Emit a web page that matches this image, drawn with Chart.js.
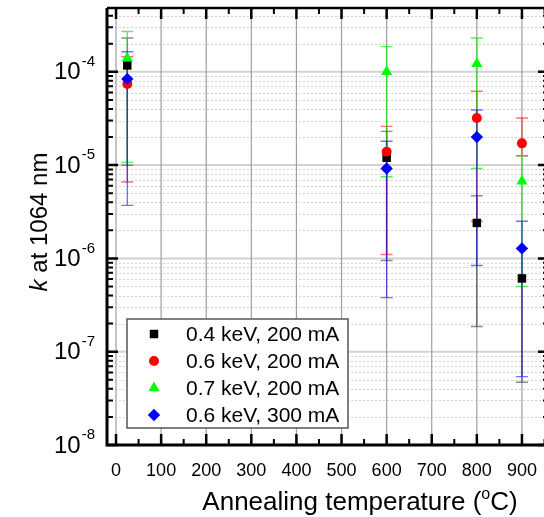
<!DOCTYPE html>
<html>
<head>
<meta charset="utf-8">
<script src="https://cdn.jsdelivr.net/npm/chart.js@4/dist/chart.umd.min.js"></script>
<style>
  html, body { margin: 0; padding: 0; background: #fff; overflow: hidden; }
  #wrap { width: 556px; height: 517px; }
</style>
</head>
<body>
<div id="wrap"><canvas id="chart" width="556" height="517"></canvas></div>
<script>
const FONT = '"Liberation Sans", Arial, Helvetica, sans-serif';

// annealing temperatures (°C)
const temps = [25, 600, 800, 900];

// k at 1064 nm and error-bar limits per deposition condition
const kLow200 = [1.17e-4, 1.2e-5, 2.4e-6, 6.1e-7];
const kLow200Lo = [1.0e-5, 9.5e-7, 1.86e-7, 4.7e-8];
const kLow200Hi = [2.3e-4, 2.3e-5, 4.7e-6, 1.28e-6];

const kMid200 = [7.4e-5, 1.39e-5, 3.2e-5, 1.71e-5];
const kMid200Lo = [6.6e-6, 1.1e-6, 2.5e-6, 1.26e-5];
const kMid200Hi = [1.45e-4, 2.6e-5, 6.2e-5, 3.2e-5];

const kHigh200 = [1.4e-4, 1.0e-4, 1.22e-4, 6.7e-6];
const kHigh200Lo = [1.07e-5, 7.5e-6, 9.2e-6, 5.0e-7];
const kHigh200Hi = [2.7e-4, 1.86e-4, 2.3e-4, 1.26e-5];

const kMid300 = [8.4e-5, 9.2e-6, 2.0e-5, 1.28e-6];
const kMid300Lo = [3.7e-6, 3.8e-7, 8.4e-7, 5.4e-8];
const kMid300Hi = [1.64e-4, 1.8e-5, 3.9e-5, 2.5e-6];

const seriesLabels = ['0.4 keV, 200 mA', '0.6 keV, 200 mA', '0.7 keV, 200 mA', '0.6 keV, 300 mA'];

const xTicks = [0, 100, 200, 300, 400, 500, 600, 700, 800, 900];
const yDecades = [-8, -7, -6, -5, -4];

const series = [
  { label: seriesLabels[0], y: kLow200, lo: kLow200Lo, hi: kLow200Hi, color: '#000000', bar: 'rgba(0,0,0,0.45)', style: 'rect', r: 6 },
  { label: seriesLabels[1], y: kMid200, lo: kMid200Lo, hi: kMid200Hi, color: '#ff0000', bar: 'rgba(255,0,0,0.55)', style: 'circle', r: 5 },
  { label: seriesLabels[2], y: kHigh200, lo: kHigh200Lo, hi: kHigh200Hi, color: '#00ff00', bar: 'rgba(0,230,0,0.65)', style: 'triangle', r: 6.5 },
  { label: seriesLabels[3], y: kMid300, lo: kMid300Lo, hi: kMid300Hi, color: '#0000ff', bar: 'rgba(0,0,255,0.55)', style: 'rectRot', r: 6.2 }
];

function drawMarker(ctx, style, r, x, y, color) {
  ctx.save();
  ctx.fillStyle = color;
  ctx.beginPath();
  if (style === 'rect') {
    const s = r * Math.SQRT1_2;
    ctx.rect(x - s, y - s, 2 * s, 2 * s);
  } else if (style === 'circle') {
    ctx.arc(x, y, r, 0, Math.PI * 2);
  } else if (style === 'triangle') {
    for (let i = 0; i < 3; i++) {
      const a = -Math.PI / 2 + i * 2 * Math.PI / 3;
      const px = x + Math.cos(a) * r, py = y + Math.sin(a) * r;
      i ? ctx.lineTo(px, py) : ctx.moveTo(px, py);
    }
    ctx.closePath();
  } else {
    ctx.moveTo(x, y - r); ctx.lineTo(x + r, y); ctx.lineTo(x, y + r); ctx.lineTo(x - r, y);
    ctx.closePath();
  }
  ctx.fill();
  ctx.restore();
}

const decor = {
  id: 'decor',
  beforeDatasetsDraw(chart) {
    const { ctx, chartArea: a, scales: { x, y } } = chart;
    ctx.save();
    ctx.beginPath();
    ctx.rect(a.left, a.top, a.right - a.left, a.bottom - a.top);
    ctx.clip();
    // minor horizontal grid (dotted)
    ctx.strokeStyle = '#d4d4d4';
    ctx.lineWidth = 1;
    ctx.setLineDash([2, 2]);
    yDecades.forEach(d => {
      for (let m = 2; m <= 9; m++) {
        const py = Math.round(y.getPixelForValue(m * Math.pow(10, d))) + 0.5;
        if (py < a.top) continue;
        ctx.beginPath(); ctx.moveTo(a.left, py); ctx.lineTo(a.right, py); ctx.stroke();
      }
    });
    ctx.setLineDash([]);
    // major horizontal grid
    ctx.strokeStyle = '#d2d2d2';
    ctx.lineWidth = 2;
    yDecades.forEach(d => {
      const py = y.getPixelForValue(Math.pow(10, d));
      ctx.beginPath(); ctx.moveTo(a.left, py); ctx.lineTo(a.right, py); ctx.stroke();
    });
    // vertical grid
    ctx.strokeStyle = '#9e9e9e';
    ctx.lineWidth = 1.2;
    xTicks.forEach(v => {
      const px = x.getPixelForValue(v);
      ctx.beginPath(); ctx.moveTo(px, a.top); ctx.lineTo(px, a.bottom); ctx.stroke();
    });
    // error bars
    ctx.lineWidth = 1.4;
    series.forEach(s => {
      ctx.strokeStyle = s.bar;
      temps.forEach((t, i) => {
        const px = x.getPixelForValue(t);
        const pLo = y.getPixelForValue(s.lo[i]);
        const pHi = y.getPixelForValue(s.hi[i]);
        ctx.beginPath();
        ctx.moveTo(px, pLo); ctx.lineTo(px, pHi);
        ctx.moveTo(px - 6, pLo); ctx.lineTo(px + 6, pLo);
        ctx.moveTo(px - 6, pHi); ctx.lineTo(px + 6, pHi);
        ctx.stroke();
      });
    });
    ctx.restore();
  },
  afterDatasetsDraw(chart) {
    const { ctx, chartArea: a, scales: { x, y } } = chart;
    ctx.save();
    ctx.strokeStyle = '#000';
    // frame
    ctx.lineWidth = 3;
    ctx.beginPath();
    ctx.moveTo(a.left, a.top); ctx.lineTo(a.left, a.bottom); ctx.lineTo(a.right, a.bottom);
    ctx.stroke();
    ctx.lineWidth = 2.5;
    ctx.beginPath();
    ctx.moveTo(a.left, a.top); ctx.lineTo(a.right, a.top); ctx.lineTo(a.right, a.bottom);
    ctx.stroke();
    // x ticks, inward on bottom and top
    for (let v = 0; v <= 950; v += 50) {
      const px = x.getPixelForValue(v);
      const major = v % 100 === 0;
      const len = major ? 11 : 6;
      ctx.lineWidth = major ? 2.5 : 2;
      ctx.beginPath();
      ctx.moveTo(px, a.bottom); ctx.lineTo(px, a.bottom - len);
      ctx.moveTo(px, a.top); ctx.lineTo(px, a.top + len);
      ctx.stroke();
    }
    // y ticks, inward on left and right
    yDecades.forEach(d => {
      for (let m = 1; m <= 9; m++) {
        const py = y.getPixelForValue(m * Math.pow(10, d));
        if (py < a.top) continue;
        const major = m === 1;
        const len = major ? 11 : 6;
        ctx.lineWidth = major ? 2.5 : 2;
        ctx.beginPath();
        ctx.moveTo(a.left, py); ctx.lineTo(a.left + len, py);
        ctx.moveTo(a.right, py); ctx.lineTo(a.right - len, py);
        ctx.stroke();
      }
    });
    // y tick labels as powers of ten
    ctx.fillStyle = '#000';
    ctx.textBaseline = 'middle';
    ctx.textAlign = 'left';
    yDecades.forEach(d => {
      const py = y.getPixelForValue(Math.pow(10, d));
      const exp = '-' + Math.abs(d);
      ctx.font = '15px ' + FONT;
      const ew = ctx.measureText(exp).width;
      ctx.font = '24px ' + FONT;
      const bw = ctx.measureText('10').width;
      const right = 95;
      ctx.fillText('10', right - ew - bw - 1, py + 1);
      ctx.font = '15px ' + FONT;
      ctx.fillText(exp, right - ew, py - 10);
    });
    // y title
    ctx.save();
    ctx.translate(40, 222);
    ctx.rotate(-Math.PI / 2);
    ctx.font = 'italic 24px ' + FONT;
    const kw = ctx.measureText('k').width;
    ctx.font = '24px ' + FONT;
    const rest = ' at 1064 nm';
    const rw = ctx.measureText(rest).width;
    const sx = -(kw + rw) / 2;
    ctx.font = 'italic 24px ' + FONT;
    ctx.fillText('k', sx, 0);
    ctx.font = '24px ' + FONT;
    ctx.fillText(rest, sx + kw, 0);
    ctx.restore();
    // x title
    ctx.textBaseline = 'alphabetic';
    const t1 = 'Annealing temperature (', t2 = 'o', t3 = 'C)';
    ctx.font = '26px ' + FONT;
    const w1 = ctx.measureText(t1).width, w3 = ctx.measureText(t3).width;
    ctx.font = '16px ' + FONT;
    const w2 = ctx.measureText(t2).width;
    let tx = 360 - (w1 + w2 + w3) / 2;
    ctx.font = '26px ' + FONT;
    ctx.fillText(t1, tx, 510);
    ctx.font = '16px ' + FONT;
    ctx.fillText(t2, tx + w1, 499);
    ctx.font = '26px ' + FONT;
    ctx.fillText(t3, tx + w1 + w2, 510);
    // legend
    const lx = 127, ly = 319, lw = 221, lh = 109;
    ctx.fillStyle = '#fff';
    ctx.fillRect(lx, ly, lw, lh);
    ctx.strokeStyle = '#555';
    ctx.lineWidth = 1.5;
    ctx.strokeRect(lx, ly, lw, lh);
    ctx.font = '21px ' + FONT;
    ctx.textBaseline = 'middle';
    series.forEach((s, i) => {
      const ry = 334 + i * 27;
      drawMarker(ctx, s.style, s.r, 154, ry, s.color);
      ctx.fillStyle = '#000';
      ctx.fillText(s.label, 186, ry + 1);
    });
    ctx.restore();
  }
};

new Chart(document.getElementById('chart'), {
  type: 'scatter',
  data: {
    datasets: series.map((s, i) => ({
      label: s.label,
      data: temps.map((t, j) => ({ x: t, y: s.y[j] })),
      pointStyle: s.style,
      pointRadius: s.r,
      backgroundColor: s.color,
      borderColor: s.color,
      borderWidth: 0,
      order: series.length - i
    }))
  },
  options: {
    responsive: false,
    animation: false,
    events: [],
    layout: { padding: { top: 8, right: 7, left: 0, bottom: 0 } },
    plugins: { legend: { display: false }, tooltip: { enabled: false } },
    scales: {
      x: {
        type: 'linear', min: -20, max: 960,
        grid: { display: false }, border: { display: false },
        afterBuildTicks: s => { s.ticks = xTicks.map(v => ({ value: v })); },
        ticks: { color: '#000', font: { family: FONT, size: 18 }, padding: 7, maxRotation: 0, autoSkip: false },
        afterFit: s => { s.height = 72; }
      },
      y: {
        type: 'logarithmic', min: 1e-8, max: 4.83e-4,
        grid: { display: false }, border: { display: false },
        ticks: { display: false },
        afterFit: s => { s.width = 107; }
      }
    }
  },
  plugins: [decor]
});
</script>
</body>
</html>
